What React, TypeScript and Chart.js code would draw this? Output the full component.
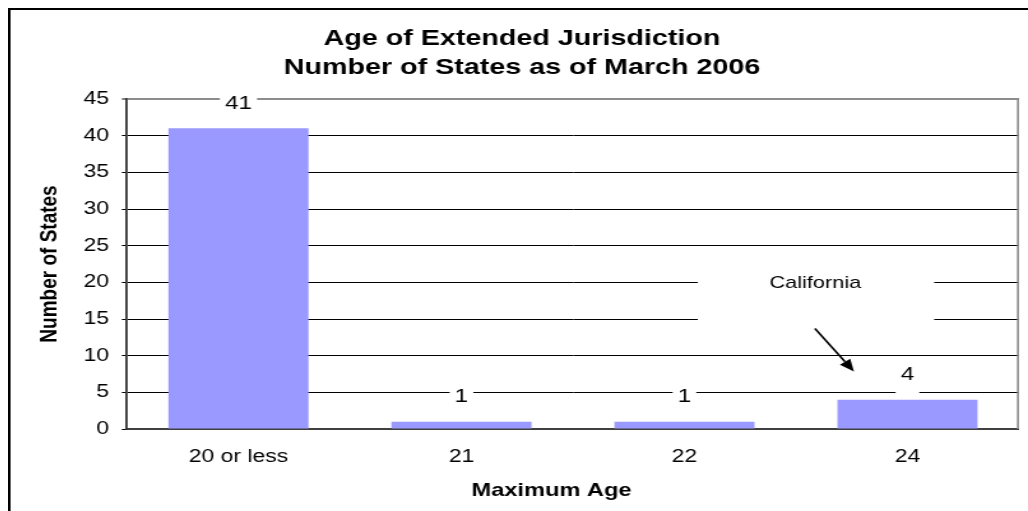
import React, { useEffect, useRef } from 'react';
import { Chart, registerables } from 'chart.js';

Chart.register(...registerables);

// ---- chart data -------------------------------------------------------
const chartTitle = ['Age of Extended Jurisdiction', 'Number of States as of March 2006'];
const ageGroups = ['20 or less', '21', '22', '24'];
const stateCounts = [41, 1, 1, 4];
const countAxisMax = 45;
const countAxisStep = 5;
const xAxisTitle = 'Maximum Age';
const yAxisTitle = 'Number of States';
const calloutText = 'California';

// ---- drawing constants ------------------------------------------------
const FONT = 'Arial, "Liberation Sans", Helvetica, sans-serif';
const CANVAS_W = 800; // drawing width, shown stretched to DISPLAY_W
const CANVAS_H = 503;
const DISPLAY_W = 1020;

// Outer frame of the chart and the grey right edge of the plot area.
const frameAndBorders = {
  id: 'frameAndBorders',
  afterDraw(chart: any) {
    const { ctx, chartArea: a } = chart;
    ctx.save();
    ctx.strokeStyle = '#000';
    ctx.lineWidth = 2;
    ctx.strokeRect(1, 1, chart.width + 40, chart.height + 40);
    ctx.strokeStyle = '#8c8c8c';
    ctx.lineWidth = 1.6;
    ctx.beginPath();
    ctx.moveTo(a.right - 0.8, a.top - 1);
    ctx.lineTo(a.right - 0.8, a.bottom);
    ctx.stroke();
    ctx.restore();
  },
};

// Value labels above each bar, on a white patch that hides the gridlines.
const valueLabels = {
  id: 'valueLabels',
  afterDatasetsDraw(chart: any) {
    const { ctx } = chart;
    const meta = chart.getDatasetMeta(0);
    const values = chart.data.datasets[0].data;
    ctx.save();
    ctx.font = `19px ${FONT}`;
    ctx.textAlign = 'center';
    ctx.textBaseline = 'middle';
    meta.data.forEach((bar: any, i: number) => {
      const text = String(values[i]);
      const x = bar.x;
      const y = bar.y - 24.5;
      const w = ctx.measureText(text).width + 8;
      ctx.fillStyle = '#fff';
      ctx.fillRect(x - w / 2, y - 14, w, 33);
      ctx.fillStyle = '#000';
      ctx.fillText(text, x, y);
    });
    ctx.restore();
  },
};

// Text box with an arrow pointing at one of the bars.
const callout = {
  id: 'callout',
  afterDatasetsDraw(chart: any, _args: any, opts: any) {
    const { ctx, scales } = chart;
    const px = (v: number) => scales.x.getPixelForValue(v);
    const py = (v: number) => scales.y.getPixelForValue(v);
    ctx.save();
    const bx0 = px(opts.box.x0);
    const bx1 = px(opts.box.x1);
    const by0 = py(opts.box.y0);
    const by1 = py(opts.box.y1);
    ctx.fillStyle = '#fff';
    ctx.fillRect(bx0, by0, bx1 - bx0, by1 - by0);

    ctx.font = `17px ${FONT}`;
    ctx.fillStyle = '#000';
    ctx.textAlign = 'center';
    ctx.textBaseline = 'middle';
    ctx.fillText(opts.text, px(opts.label.x), py(opts.label.y));

    const x0 = px(opts.arrow.from[0]);
    const y0 = py(opts.arrow.from[1]);
    const x1 = px(opts.arrow.to[0]);
    const y1 = py(opts.arrow.to[1]);
    const ang = Math.atan2(y1 - y0, x1 - x0);
    const headLen = 12;
    const headHalf = 5;
    const bx = x1 - headLen * Math.cos(ang);
    const by = y1 - headLen * Math.sin(ang);
    ctx.strokeStyle = '#000';
    ctx.lineWidth = 1.6;
    ctx.beginPath();
    ctx.moveTo(x0, y0);
    ctx.lineTo(bx, by);
    ctx.stroke();
    ctx.beginPath();
    ctx.moveTo(x1, y1);
    ctx.lineTo(bx + headHalf * Math.sin(ang), by - headHalf * Math.cos(ang));
    ctx.lineTo(bx - headHalf * Math.sin(ang), by + headHalf * Math.cos(ang));
    ctx.closePath();
    ctx.fillStyle = '#000';
    ctx.fill();
    ctx.restore();
  },
};

// Category axis caption, set a little left of the plot centre.
const xCaption = {
  id: 'xCaption',
  afterDraw(chart: any, _args: any, opts: any) {
    const { ctx, chartArea: a } = chart;
    ctx.save();
    ctx.font = `bold 18.5px ${FONT}`;
    ctx.fillStyle = '#000';
    ctx.textAlign = 'center';
    ctx.textBaseline = 'middle';
    ctx.fillText(opts.text, (a.left + a.right) / 2 + opts.shift, opts.y);
    ctx.restore();
  },
};

export default function App() {
  const canvasRef = useRef<HTMLCanvasElement>(null);

  useEffect(() => {
    const canvas = canvasRef.current;
    if (!canvas) return;
    const chart = new Chart(canvas, {
      type: 'bar',
      data: {
        labels: ageGroups,
        datasets: [
          {
            data: stateCounts,
            backgroundColor: '#9999ff',
            borderWidth: 0,
            barPercentage: 0.628,
            categoryPercentage: 1,
          },
        ],
      },
      plugins: [frameAndBorders, valueLabels, callout, xCaption],
      options: {
        responsive: false,
        maintainAspectRatio: false,
        animation: false,
        devicePixelRatio: 1,
        layout: { padding: { left: 13.3, right: 7.1, top: 0, bottom: 0 } },
        plugins: {
          legend: { display: false },
          tooltip: { enabled: false },
          title: {
            display: true,
            text: chartTitle,
            color: '#000',
            font: { family: FONT, size: 22.5, weight: 'bold', lineHeight: '29px' },
            padding: { top: 16, bottom: 17 },
          },
          callout: {
            text: calloutText,
            box: { x0: 2.06, x1: 3.12, y0: 23.2, y1: 11.7 },
            label: { x: 2.587, y: 19.8 },
            arrow: { from: [2.585, 13.7], to: [2.76, 7.84] },
          },
          xCaption: { text: xAxisTitle, shift: -16.8, y: 483 },
        } as any,
        scales: {
          x: {
            grid: { display: false, drawTicks: false },
            border: { color: '#404040', width: 2 },
            ticks: {
              color: '#000',
              font: { family: FONT, size: 18 },
              padding: 17,
              maxRotation: 0,
              autoSkip: false,
            },
            afterFit: (s: any) => {
              s.height = 82;
            },
          },
          y: {
            min: 0,
            max: countAxisMax,
            ticks: {
              stepSize: countAxisStep,
              color: '#000',
              font: { family: FONT, size: 18 },
              padding: 10,
            },
            grid: {
              color: (c: any) => (c.tick && c.tick.value === countAxisMax ? '#8c8c8c' : '#000'),
              lineWidth: (c: any) => (c.tick && c.tick.value === countAxisMax ? 2 : 1),
              tickColor: '#000',
              tickLength: 4,
              tickWidth: 1,
            },
            border: { color: '#333', width: 1.8 },
            title: {
              display: true,
              text: yAxisTitle,
              color: '#000',
              font: { family: FONT, size: 19, weight: 'bold' },
              padding: { top: 8.2, bottom: 0 },
            },
            afterFit: (s: any) => {
              s.width = 80;
            },
          },
        },
      },
    });
    return () => chart.destroy();
  }, []);

  return (
    <div style={{ position: 'fixed', left: 8, top: 8, width: DISPLAY_W, height: CANVAS_H }}>
      <canvas
        ref={canvasRef}
        width={CANVAS_W}
        height={CANVAS_H}
        style={{ display: 'block', width: `${DISPLAY_W}px`, height: `${CANVAS_H}px` }}
      />
    </div>
  );
}
